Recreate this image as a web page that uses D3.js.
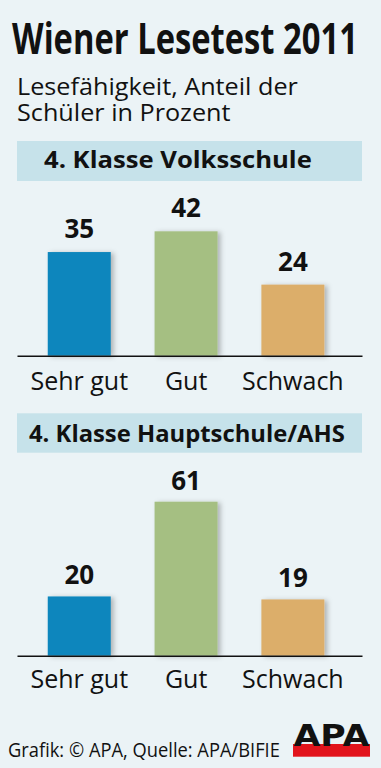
<!DOCTYPE html>
<html><head><meta charset="utf-8">
<script src="https://cdn.jsdelivr.net/npm/d3@7"></script>
<style>
html,body{margin:0;padding:0;background:#ebf3f6;}
svg{display:block;}
text{font-family:"Open Sans",sans-serif;fill:#111;}
</style></head>
<body>
<script>
const categories = ["Sehr gut", "Gut", "Schwach"];
const volksschule = [35, 42, 24];
const hauptschule = [20, 61, 19];
const panelTitles = ["4. Klasse Volksschule", "4. Klasse Hauptschule/AHS"];
const barColors = ["#0c86bd", "#a5bf82", "#dcae6a"];
const title = "Wiener Lesetest 2011";
const subtitle = ["Lesefähigkeit, Anteil der", "Schüler in Prozent"];
const source = "Grafik: © APA, Quelle: APA/BIFIE";

const W = 381, H = 768;
const svg = d3.select("body").append("svg").attr("width", W).attr("height", H);
svg.append("rect").attr("width", W).attr("height", H).attr("fill", "#ebf3f6");

const defs = svg.append("defs");
const f = defs.append("filter").attr("id", "sh").attr("x", "-20%").attr("y", "-20%").attr("width", "150%").attr("height", "140%");
f.append("feDropShadow").attr("dx", 3).attr("dy", 1).attr("stdDeviation", 2.5)
  .attr("flood-color", "#000").attr("flood-opacity", 0.26);

// place text at (x, baseline y), horizontally scaled to a target width
function fitText(str, x, y, w, attrs) {
  const g = svg.append("g");
  const t = g.append("text").attr("x", 0).attr("y", 0).text(str);
  Object.entries(attrs).forEach(([k, v]) => t.attr(k, v));
  const nat = t.node().getComputedTextLength();
  const sx = w / nat;
  g.attr("transform", `translate(${x},${y}) scale(${sx},1)`);
  return t;
}

// Title
fitText(title, 12, 53.5, 346, {"font-size": 43, "font-weight": 700});

// Subtitle: one text block, two lines
{
  const g = svg.append("g");
  const t = g.append("text").attr("font-size", 23.5);
  t.append("tspan").attr("x", 0).attr("y", 0).text(subtitle[0]);
  t.append("tspan").attr("x", 0).attr("y", 26.5).text(subtitle[1]);
  const nat = t.select("tspan").node().getComputedTextLength();
  g.attr("transform", `translate(17,94.5) scale(${281 / nat},1)`);
}

const x = d3.scaleBand().domain(categories).range([17, 362])
  .paddingInner(0.41).paddingOuter(0.32).align(0.45);

const panels = [
  {values: volksschule, head: [141, 181], headX: 44, headW: 268, headBase: 168, base: 355.7, labOff: 14, catY: 34},
  {values: hauptschule, head: [413.3, 452.7], headX: 29, headW: 316, headBase: 441.7, base: 655.7, labOff: 12, catY: 32.5}
];

panels.forEach((p, i) => {
  svg.append("rect").attr("x", 17).attr("y", p.head[0]).attr("width", 345)
    .attr("height", p.head[1] - p.head[0]).attr("fill", "#c6e2ea");
  fitText(panelTitles[i], p.headX, p.headBase, p.headW, {"font-size": 22.5, "font-weight": 700});

  // bars share one clamped scale; the tallest bar is cut short as in the original
  const y = d3.scaleLinear().domain([0, 52]).range([p.base, p.base - 154]).clamp(true);
  const g = svg.append("g");
  g.selectAll("rect.bar").data(p.values).join("rect").attr("class", "bar")
    .attr("x", (d, j) => x(categories[j]))
    .attr("width", x.bandwidth())
    .attr("y", d => y(d))
    .attr("height", d => p.base - y(d))
    .attr("fill", (d, j) => barColors[j])
    .attr("filter", "url(#sh)");
  g.selectAll("text.val").data(p.values).join("text").attr("class", "val")
    .attr("x", (d, j) => x(categories[j]) + x.bandwidth() / 2)
    .attr("y", d => y(d) - p.labOff)
    .attr("text-anchor", "middle")
    .attr("font-size", 26).attr("font-weight", 700)
    .text(d => d);

  const ax = svg.append("g").attr("transform", `translate(0,${p.base})`)
    .call(d3.axisBottom(x).tickSize(0).tickSizeOuter(0));
  ax.select(".domain").attr("stroke", "#111").attr("stroke-width", 1.6);
  ax.selectAll("text").attr("dy", null).attr("y", p.catY)
    .attr("font-size", 25).attr("font-family", "Open Sans, sans-serif").attr("fill", "#111");
});

// Footer
fitText(source, 8, 757.3, 272, {"font-size": 19.5});

// APA logo
svg.append("rect").attr("x", 293).attr("y", 744).attr("width", 77).attr("height", 12.7).attr("fill", "#e2141c");
fitText("APA", 293.5, 746, 76, {"font-size": 31, "font-weight": 900, "style": "font-family:'DejaVu Sans',sans-serif"});
</script>
</body></html>
